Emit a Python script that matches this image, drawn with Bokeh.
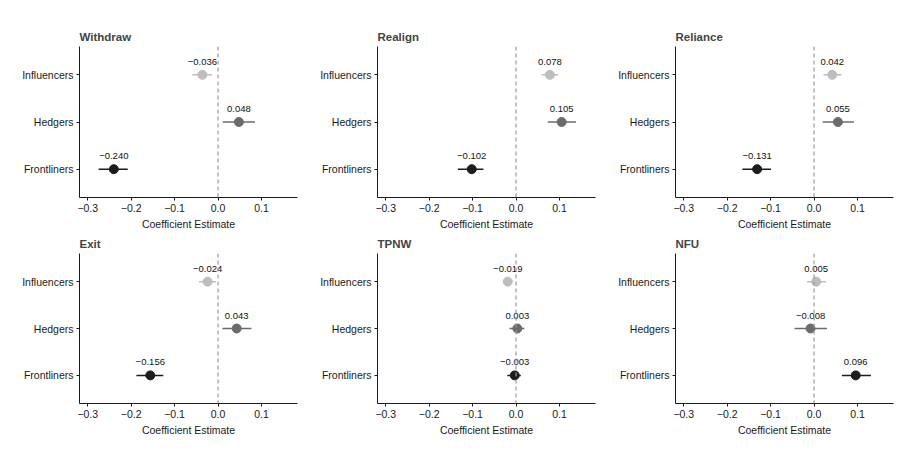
from bokeh.plotting import figure
from bokeh.layouts import gridplot
from bokeh.models import Range1d, FixedTicker, Span
from bokeh.core.properties import value
from bokeh.embed import file_html
from bokeh.resources import INLINE

# groups from top to bottom
groups = ["Influencers", "Hedgers", "Frontliners"]
group_y = [3, 2, 1]
group_colors = ["#BDBDBD", "#6B6B6B", "#1C1C1C"]

panels = ["Withdraw", "Realign", "Reliance", "Exit", "TPNW", "NFU"]

withdraw_est = [-0.036, 0.048, -0.240]
withdraw_lo = [-0.059, 0.011, -0.275]
withdraw_hi = [-0.014, 0.085, -0.208]

realign_est = [0.078, 0.105, -0.102]
realign_lo = [0.059, 0.073, -0.134]
realign_hi = [0.097, 0.138, -0.075]

reliance_est = [0.042, 0.055, -0.131]
reliance_lo = [0.022, 0.020, -0.165]
reliance_hi = [0.063, 0.092, -0.099]

exit_est = [-0.024, 0.043, -0.156]
exit_lo = [-0.044, 0.010, -0.188]
exit_hi = [-0.005, 0.077, -0.126]

tpnw_est = [-0.019, 0.003, -0.003]
tpnw_lo = [-0.029, -0.015, -0.020]
tpnw_hi = [-0.009, 0.019, 0.011]

nfu_est = [0.005, -0.008, 0.096]
nfu_lo = [-0.016, -0.045, 0.064]
nfu_hi = [0.028, 0.030, 0.131]

x_ticks = [-0.3, -0.2, -0.1, 0.0, 0.1]

FONT = "Liberation Sans"


def fmt(v):
    return f"{v:.3f}".replace("-", "\u2212")


def make_panel(title, est, lo, hi, top, left):
    p = figure(width=left + 218 + 9, height=top + 152 + 34, output_backend="svg",
               toolbar_location=None, x_range=Range1d(-0.319, 0.183),
               y_range=Range1d(0.4, 3.6), min_border_left=left,
               min_border_right=9, min_border_top=top, min_border_bottom=34)
    p.outline_line_color = None
    p.xgrid.visible = False
    p.ygrid.visible = False

    p.title.text = title
    p.title.text_font = FONT
    p.title.text_font_size = "11.5px"
    p.title.text_font_style = "bold"
    p.title.align = "left"
    p.title.standoff = 7

    # zero reference line
    p.add_layout(Span(location=0, dimension="height", line_color="#9A9A9A",
                      line_dash="4 3", line_width=1.2))

    p.segment(x0=lo, x1=hi, y0=group_y, y1=group_y, line_color=group_colors,
              line_width=1.5)
    p.scatter(x=est, y=group_y, size=9, fill_color=group_colors,
              line_color=group_colors)
    p.text(x=est, y=group_y, text=[fmt(v) for v in est], y_offset=-13,
           text_align="center", text_baseline="middle",
           text_font=value(FONT), text_font_size="9.5px", text_color="#111111")

    p.xaxis.ticker = FixedTicker(ticks=x_ticks)
    p.xaxis.major_label_overrides = {t: fmt(t)[:-2] if t != 0 else "0.0" for t in x_ticks}
    p.xaxis.axis_label = "Coefficient Estimate"
    p.yaxis.ticker = FixedTicker(ticks=group_y)
    p.yaxis.major_label_overrides = {y: g for y, g in zip(group_y, groups)}

    for ax in (p.xaxis, p.yaxis):
        ax.axis_line_color = "#1a1a1a"
        ax.axis_line_width = 1
        ax.major_tick_line_color = "#1a1a1a"
        ax.major_tick_in = 0
        ax.major_tick_out = 3
        ax.minor_tick_line_color = None
        ax.major_label_standoff = 3
        ax.major_label_text_font = FONT
        ax.major_label_text_font_size = "10.5px"
        ax.major_label_text_color = "#1a1a1a"
        ax.axis_label_standoff = 3
        ax.axis_label_text_font = FONT
        ax.axis_label_text_font_size = "10.5px"
        ax.axis_label_text_font_style = "normal"
        ax.axis_label_text_color = "#1a1a1a"
    return p


data = [
    (withdraw_est, withdraw_lo, withdraw_hi),
    (realign_est, realign_lo, realign_hi),
    (reliance_est, reliance_lo, reliance_hi),
    (exit_est, exit_lo, exit_hi),
    (tpnw_est, tpnw_lo, tpnw_hi),
    (nfu_est, nfu_lo, nfu_hi),
]

figs = []
for i, (name, (est, lo, hi)) in enumerate(zip(panels, data)):
    top = 46 if i < 3 else 20
    left = 79 if i % 3 == 0 else 71
    figs.append(make_panel(name, est, lo, hi, top, left))

grid = gridplot([figs[:3], figs[3:]], toolbar_location=None)

open("out.html", "w").write(file_html(grid, INLINE))
